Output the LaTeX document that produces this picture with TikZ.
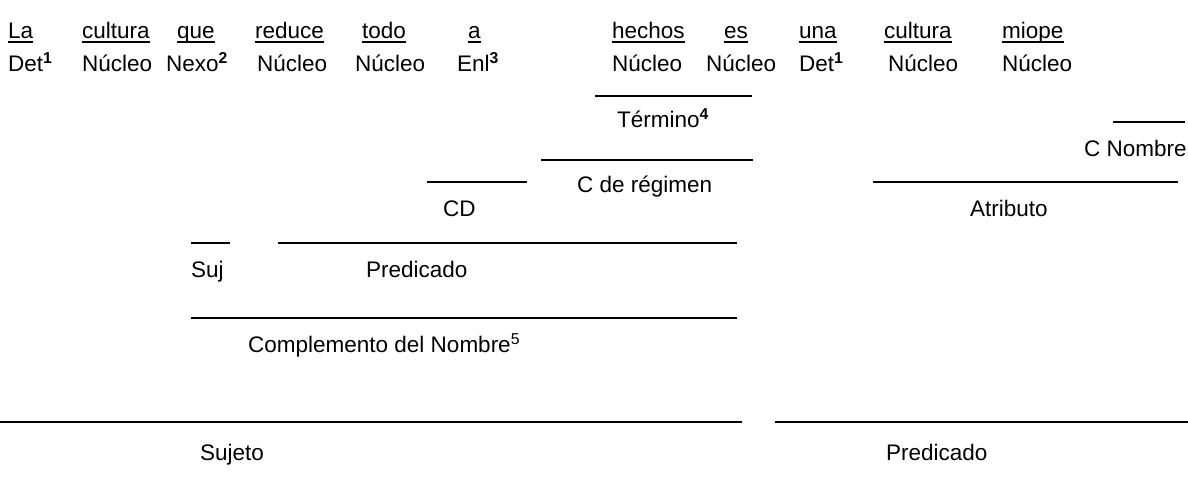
\documentclass[tikz,border=0pt]{standalone}
\usepackage{fontspec}
\setmainfont{Liberation Sans}
\newcommand{\supb}[1]{\textsuperscript{\bfseries #1}}
\begin{document}
\begin{tikzpicture}[x=1pt,y=-1pt,
  lbl/.style={anchor=base west,inner sep=0pt,font=\fontsize{22.5}{26}\selectfont},
  rulel/.style={line width=1.5pt}]
\useasboundingbox (0,0) rectangle (1188,480);
% row 1: words
\node[lbl] (w1) at (8,38) {La};
\node[lbl] (w2) at (82,38) {cultura};
\node[lbl] (w3) at (177,38) {que};
\node[lbl] (w4) at (255,38) {reduce};
\node[lbl] (w5) at (362,38) {todo};
\node[lbl] (w6) at (468,38) {a};
\node[lbl] (w7) at (612,38) {hechos};
\node[lbl] (w8) at (724,38) {es};
\node[lbl] (w9) at (799,38) {una};
\node[lbl] (w10) at (884,38) {cultura};
\node[lbl] (w11) at (1002,38) {miope};
\foreach \i in {1,...,11}
  \draw[rulel] ([yshift=-4pt]w\i.base west) -- ([yshift=-4pt]w\i.base east);
% row 2: functions
\node[lbl] (f1) at (8,71) {Det\supb{1}};
\node[lbl] (f2) at (82,71) {Núcleo};
\node[lbl] (f3) at (166,71) {Nexo\supb{2}};
\node[lbl] (f4) at (257,71) {Núcleo};
\node[lbl] (f5) at (355,71) {Núcleo};
\node[lbl] (f6) at (457,71) {Enl\supb{3}};
\node[lbl] (f7) at (612,71) {Núcleo};
\node[lbl] (f8) at (706,71) {Núcleo};
\node[lbl] (f9) at (799,71) {Det\supb{1}};
\node[lbl] (f10) at (888,71) {Núcleo};
\node[lbl] (f11) at (1002,71) {Núcleo};
% Termino
\coordinate (ta) at (595,96); \coordinate (tb) at (752,96);
\draw[rulel] (ta) -- (tb);
\node[lbl] (term) at (617,127) {Término\supb{4}};
% C Nombre
\coordinate (cna) at (1113,122); \coordinate (cnb) at (1185,122);
\draw[rulel] (cna) -- (cnb);
\node[lbl] (cnom) at (1084,156) {C Nombre};
% C de regimen
\coordinate (cra) at (541,160); \coordinate (crb) at (753,160);
\draw[rulel] (cra) -- (crb);
\node[lbl] (creg) at (577,192) {C de régimen};
% CD
\coordinate (cda) at (427,182); \coordinate (cdb) at (527,182);
\draw[rulel] (cda) -- (cdb);
\node[lbl] (cd) at (443,216) {CD};
% Atributo
\coordinate (ata) at (873,182); \coordinate (atb) at (1178,182);
\draw[rulel] (ata) -- (atb);
\node[lbl] (atr) at (970,216) {Atributo};
% Suj / Predicado
\coordinate (sa) at (191,243); \coordinate (sb) at (230,243);
\draw[rulel] (sa) -- (sb);
\node[lbl] (suj) at (191,277) {Suj};
\coordinate (pa) at (278,243); \coordinate (pb) at (737,243);
\draw[rulel] (pa) -- (pb);
\node[lbl] (pred1) at (366,277) {Predicado};
% Complemento del Nombre
\coordinate (ca) at (191,318); \coordinate (cb) at (737,318);
\draw[rulel] (ca) -- (cb);
\node[lbl] (cn) at (248,352) {Complemento del Nombre\textsuperscript{5}};
% bottom
\coordinate (ba) at (0,422); \coordinate (bb) at (742,422);
\draw[rulel] (ba) -- (bb);
\node[lbl] (sujeto) at (200,460) {Sujeto};
\coordinate (bc) at (775,422); \coordinate (bd) at (1188,422);
\draw[rulel] (bc) -- (bd);
\node[lbl] (pred2) at (886,460) {Predicado};
\end{tikzpicture}
\end{document}
